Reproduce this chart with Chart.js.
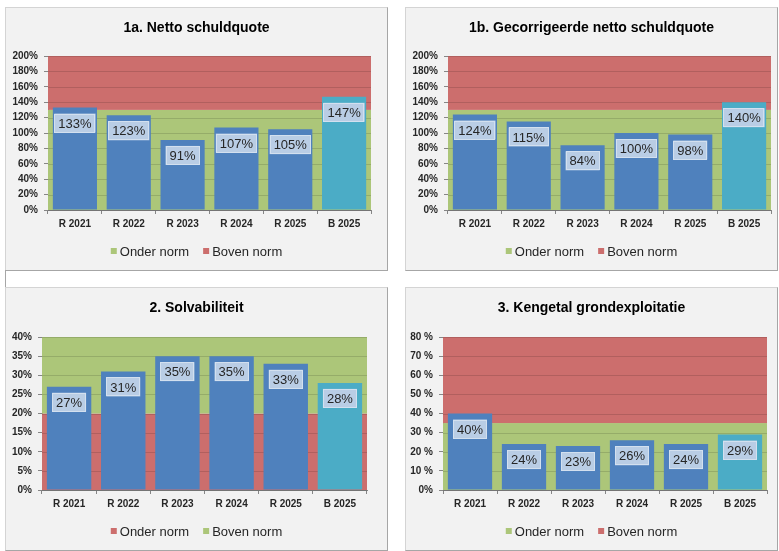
<!DOCTYPE html>
<html>
<head>
<meta charset="utf-8">
<script src="https://cdn.jsdelivr.net/npm/chart.js@4.4.1/dist/chart.umd.min.js"></script>
<style>
  body { margin: 0; background: #ffffff; width: 779px; height: 551px; position: relative; overflow: hidden; }
  .panel {
    position: absolute; background: #f2f2f2; box-sizing: border-box;
    border: 1px solid #d4d4d4; border-right-color: #a6a6a6; border-bottom-color: #a6a6a6;
  }
  .panel canvas { position: absolute; left: 0; top: 0; }
  .sep { position: absolute; left: 5px; top: 270px; width: 1px; height: 17px; background: #a6a6a6; }
</style>
</head>
<body>
<div class="panel" style="left:5px;top:7px;width:383px;height:264px"><canvas id="c1a" width="381" height="262"></canvas></div>
<div class="panel" style="left:405px;top:7px;width:373px;height:264px"><canvas id="c1b" width="371" height="262"></canvas></div>
<div class="sep"></div>
<div class="panel" style="left:5px;top:287px;width:383px;height:264px"><canvas id="c2" width="381" height="262"></canvas></div>
<div class="panel" style="left:405px;top:287px;width:373px;height:264px"><canvas id="c3" width="371" height="262"></canvas></div>
<script>
// data
const categories = ['R 2021', 'R 2022', 'R 2023', 'R 2024', 'R 2025', 'B 2025'];
const nettoSchuldquote = [133, 123, 91, 107, 105, 147];
const gecorrSchuldquote = [124, 115, 84, 100, 98, 140];
const solvabiliteit = [27, 31, 35, 35, 33, 28];
const grondexploitatie = [40, 24, 23, 26, 24, 29];

// norm bands: [from, to]
const band1Onder = [0, 130];
const band1Boven = [130, 200];
const band2Onder = [0, 20];
const band2Boven = [20, 40];
const band3Onder = [0, 35];
const band3Boven = [35, 80];

const ticks3 = ['0%', '10 %', '20 %', '30 %', '40 %', '50 %', '60 %', '70 %', '80 %'];

const BLUE = '#4f81bd';
const TEAL = '#4bacc6';
const GREEN = '#acc679';
const RED = '#cc6e6d';
const FONT = "'Liberation Sans', Arial, sans-serif";

// achtergrondbanden + rasterlijnen
const bandPlugin = {
  id: 'bands',
  beforeDatasetsDraw(chart, args, opts) {
    const { ctx, chartArea: a, scales: { y } } = chart;
    ctx.save();
    opts.bands.forEach(b => {
      const top = y.getPixelForValue(b.range[1]);
      const bot = y.getPixelForValue(b.range[0]);
      ctx.fillStyle = b.color;
      ctx.fillRect(a.left, top, a.right - a.left, bot - top);
    });
    ctx.strokeStyle = 'rgba(0,0,0,0.13)';
    ctx.lineWidth = 1;
    y.ticks.forEach(t => {
      const py = Math.round(y.getPixelForValue(t.value)) + 0.5;
      ctx.beginPath();
      ctx.moveTo(a.left, py);
      ctx.lineTo(a.right, py);
      ctx.stroke();
    });
    ctx.restore();
  }
};

// labels in de balken
const labelPlugin = {
  id: 'barLabels',
  afterDatasetsDraw(chart) {
    const { ctx } = chart;
    const meta = chart.getDatasetMeta(0);
    const data = chart.data.datasets[0].data;
    ctx.save();
    ctx.font = '13px ' + FONT;
    ctx.textAlign = 'center';
    ctx.textBaseline = 'middle';
    meta.data.forEach((bar, i) => {
      const txt = data[i] + '%';
      const w = ctx.measureText(txt).width + 8;
      const h = 19;
      const top = bar.y + 6;
      ctx.fillStyle = '#b9cde5';
      ctx.fillRect(bar.x - w / 2, top, w, h);
      ctx.strokeStyle = '#d3e0ef';
      ctx.lineWidth = 1;
      ctx.strokeRect(Math.round(bar.x - w / 2) + 0.5, Math.round(top) + 0.5, Math.round(w) - 1, h - 1);
      ctx.fillStyle = '#262626';
      ctx.fillText(txt, bar.x, top + h / 2 + 1);
    });
    ctx.restore();
  }
};

// titel en legenda
const textPlugin = {
  id: 'panelText',
  afterDraw(chart, args, opts) {
    const { ctx, width } = chart;
    ctx.save();
    ctx.fillStyle = '#000000';
    ctx.font = 'bold 14px ' + FONT;
    ctx.textAlign = 'center';
    ctx.textBaseline = 'middle';
    ctx.fillText(opts.title, width / 2, 20);

    ctx.font = '13px ' + FONT;
    const items = opts.bands;
    const gap = 14, box = 6, boxGap = 3;
    const widths = items.map(b => box + boxGap + ctx.measureText(b.label).width);
    const total = widths.reduce((s, w) => s + w, 0) + gap * (items.length - 1);
    let x = width / 2 - total / 2;
    const ly = opts.legendY;
    ctx.textAlign = 'left';
    items.forEach((b, i) => {
      ctx.fillStyle = b.color;
      ctx.fillRect(x, ly - 3, box, box);
      ctx.fillStyle = '#262626';
      ctx.fillText(b.label, x + box + boxGap, ly + 1);
      x += widths[i] + gap;
    });
    ctx.restore();
  }
};

function makeChart(id, title, values, bands, max, step, tickFmt, plot) {
  const el = document.getElementById(id);
  const W = el.width, H = el.height;
  const xAxisH = 24;
  return new Chart(el, {
    type: 'bar',
    data: {
      labels: categories,
      datasets: [{
        data: values,
        backgroundColor: values.map((v, i) => i === values.length - 1 ? TEAL : BLUE),
        borderWidth: 0,
        categoryPercentage: 1,
        barPercentage: 0.82,
      }],
    },
    options: {
      responsive: false,
      animation: false,
      layout: {
        padding: { left: 0, top: plot.top, right: W - plot.right, bottom: H - plot.bottom - xAxisH },
      },
      plugins: {
        legend: { display: false },
        title: { display: false },
        tooltip: { enabled: false },
        bands: { bands: bands },
        panelText: { title: title, bands: bands, legendY: 243 },
      },
      scales: {
        x: {
          grid: { offset: true, drawOnChartArea: false, tickLength: 4, color: '#868686' },
          border: { color: '#868686' },
          ticks: { color: '#262626', font: { family: FONT, size: 10, weight: 'bold' }, padding: 4, maxRotation: 0 },
          afterFit(s) { s.height = xAxisH; },
        },
        y: {
          min: 0,
          max: max,
          grid: { drawOnChartArea: false, tickLength: 4, color: '#868686' },
          border: { color: '#868686' },
          ticks: {
            stepSize: step,
            color: '#262626',
            font: { family: FONT, size: 10, weight: 'bold' },
            padding: 6,
            callback: tickFmt,
          },
          afterFit(s) { s.width = plot.left; },
        },
      },
    },
    plugins: [bandPlugin, labelPlugin, textPlugin],
  });
}

const pct = v => v + '%';

makeChart('c1a', '1a. Netto schuldquote', nettoSchuldquote,
  [{ label: 'Onder norm', color: GREEN, range: band1Onder }, { label: 'Boven norm', color: RED, range: band1Boven }],
  200, 20, pct, { left: 42, right: 365, top: 48, bottom: 202 });

makeChart('c1b', '1b. Gecorrigeerde netto schuldquote', gecorrSchuldquote,
  [{ label: 'Onder norm', color: GREEN, range: band1Onder }, { label: 'Boven norm', color: RED, range: band1Boven }],
  200, 20, pct, { left: 42, right: 365, top: 48, bottom: 202 });

makeChart('c2', '2. Solvabiliteit', solvabiliteit,
  [{ label: 'Onder norm', color: RED, range: band2Onder }, { label: 'Boven norm', color: GREEN, range: band2Boven }],
  40, 5, pct, { left: 36, right: 361, top: 49, bottom: 202 });

makeChart('c3', '3. Kengetal grondexploitatie', grondexploitatie,
  [{ label: 'Onder norm', color: GREEN, range: band3Onder }, { label: 'Boven norm', color: RED, range: band3Boven }],
  80, 10, (v, i) => ticks3[i], { left: 37, right: 361, top: 49, bottom: 202 });
</script>
</body>
</html>
